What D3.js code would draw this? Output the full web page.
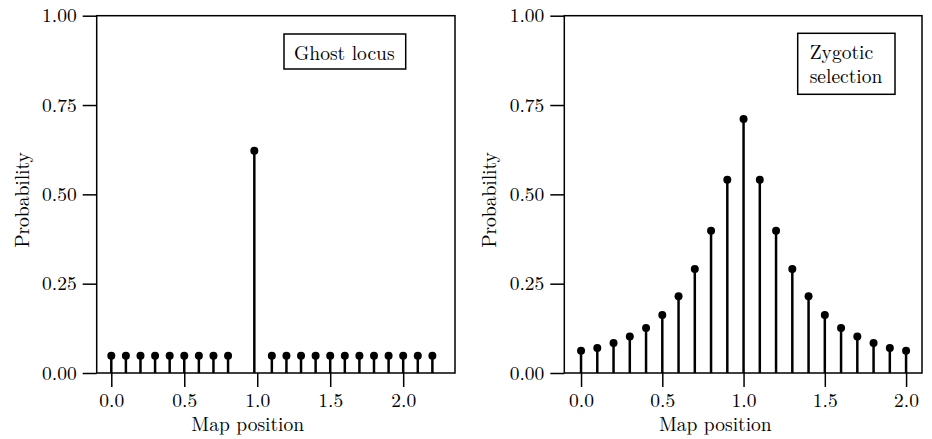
<!DOCTYPE html>
<html>
<head>
<meta charset="utf-8">
<script src="https://cdn.jsdelivr.net/npm/d3@7"></script>
<style>
  body { margin: 0; background: #fff; }
</style>
</head>
<body>
<div id="chart"></div>
<script>
// data
const ghostPos = [0.0, 0.1, 0.2, 0.3, 0.4, 0.5, 0.6, 0.7, 0.8, 0.98, 1.1, 1.2, 1.3, 1.4, 1.5, 1.6, 1.7, 1.8, 1.9, 2.0, 2.1, 2.2];
const ghostProb = [0.048, 0.048, 0.048, 0.048, 0.048, 0.048, 0.048, 0.048, 0.048, 0.622, 0.048, 0.048, 0.048, 0.048, 0.048, 0.048, 0.048, 0.048, 0.048, 0.048, 0.048, 0.048];

const zygPos = [0.0, 0.1, 0.2, 0.3, 0.4, 0.5, 0.6, 0.7, 0.8, 0.9, 1.0, 1.1, 1.2, 1.3, 1.4, 1.5, 1.6, 1.7, 1.8, 1.9, 2.0];
const zygProb = [0.062, 0.070, 0.084, 0.102, 0.126, 0.162, 0.215, 0.291, 0.398, 0.541, 0.711, 0.541, 0.398, 0.291, 0.215, 0.162, 0.126, 0.102, 0.084, 0.070, 0.062];

const xTicks = [0.0, 0.5, 1.0, 1.5, 2.0];
const yTicks = [0.00, 0.25, 0.50, 0.75, 1.00];

const width = 932, height = 439;
const fontSize = 19.5;
const font = "Latin Modern Roman";

const svg = d3.select("#chart").append("svg")
    .attr("width", width)
    .attr("height", height)
    .style("font-family", font);

function drawPanel(opts) {
    const { left, right, top, bottom, xDomain, pos, prob, labelLines, box } = opts;
    const g = svg.append("g");

    const x = d3.scaleLinear().domain(xDomain).range([left, right]);
    const y = d3.scaleLinear().domain([0, 1]).range([bottom, top]);

    // stems
    g.selectAll("line.stem")
        .data(pos)
        .enter().append("line")
        .attr("class", "stem")
        .attr("x1", d => x(d))
        .attr("x2", d => x(d))
        .attr("y1", y(0))
        .attr("y2", (d, i) => y(prob[i]))
        .attr("stroke", "#000")
        .attr("stroke-width", 2.5);

    // dots
    g.selectAll("circle")
        .data(pos)
        .enter().append("circle")
        .attr("cx", d => x(d))
        .attr("cy", (d, i) => y(prob[i]))
        .attr("r", 4)
        .attr("fill", "#000");

    // frame
    g.append("rect")
        .attr("x", left)
        .attr("y", top)
        .attr("width", right - left)
        .attr("height", bottom - top)
        .attr("fill", "none")
        .attr("stroke", "#000")
        .attr("stroke-width", 1.5);

    // x-axis
    const xAxis = g.append("g")
        .attr("transform", `translate(0,${bottom})`)
        .call(d3.axisBottom(x).tickValues(xTicks).tickFormat(d3.format(".1f"))
            .tickSize(14).tickPadding(6).tickSizeOuter(0));
    xAxis.select(".domain").remove();

    // y-axis
    const yAxis = g.append("g")
        .attr("transform", `translate(${left},0)`)
        .call(d3.axisLeft(y).tickValues(yTicks).tickFormat(d3.format(".2f"))
            .tickSize(14).tickPadding(6).tickSizeOuter(0));
    yAxis.select(".domain").remove();

    [xAxis, yAxis].forEach(a => a.attr("font-family", null).style("font-family", font).attr("font-size", fontSize));
    g.selectAll(".tick line").attr("stroke", "#000").attr("stroke-width", 1.5);
    g.selectAll(".tick text").attr("fill", "#000").style("font-family", font);

    // axis titles
    g.append("text")
        .attr("x", left + 151)
        .attr("y", 431)
        .attr("text-anchor", "middle")
        .attr("font-size", fontSize)
        .style("font-family", font)
        .text("Map position");

    g.append("text")
        .attr("transform", `translate(${left - 68},200) rotate(-90)`)
        .attr("text-anchor", "middle")
        .attr("font-size", fontSize)
        .style("font-family", font)
        .text("Probability");

    // label box
    g.append("rect")
        .attr("x", box.x)
        .attr("y", box.y)
        .attr("width", box.w)
        .attr("height", box.h)
        .attr("fill", "#fff")
        .attr("stroke", "#000")
        .attr("stroke-width", 1.5);

    labelLines.forEach((t, i) => {
        g.append("text")
            .attr("x", box.x + box.pad)
            .attr("y", box.y + 25.5 + i * 24)
            .attr("font-size", fontSize)
            .style("font-family", font)
            .text(t);
    });
}

drawPanel({
    left: 96.7, right: 455, top: 15.7, bottom: 373,
    xDomain: [-0.1, 2.355],
    pos: ghostPos, prob: ghostProb,
    labelLines: ["Ghost locus"],
    box: { x: 284, y: 34, w: 121.7, h: 35, pad: 10 }
});

drawPanel({
    left: 564.3, right: 922, top: 15.7, bottom: 373,
    xDomain: [-0.103, 2.098],
    pos: zygPos, prob: zygProb,
    labelLines: ["Zygotic", "selection"],
    box: { x: 797.7, y: 33.3, w: 97.3, h: 61, pad: 12 }
});
</script>
</body>
</html>
